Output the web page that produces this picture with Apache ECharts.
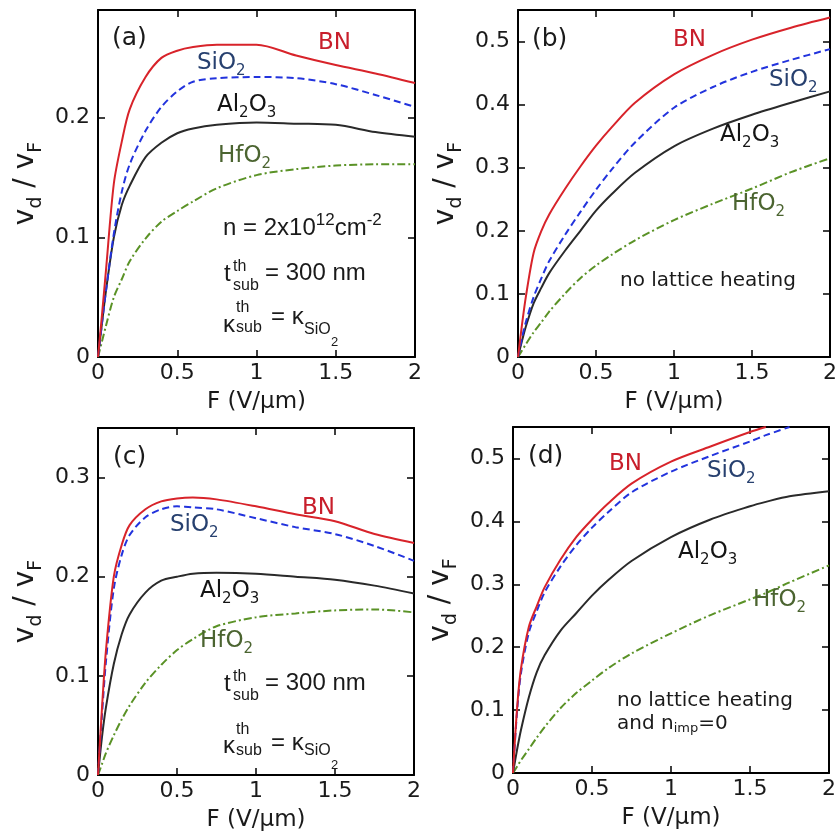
<!DOCTYPE html>
<html><head><meta charset="utf-8">
<script src="https://cdn.jsdelivr.net/npm/echarts@6/dist/echarts.min.js"></script>
<style>html,body{margin:0;padding:0;background:#fff}#c{width:840px;height:839px}</style>
</head><body><div id="c"></div>
<script>
// ---------- data ----------
const fieldABC = [0,0.025,0.05,0.1,0.15,0.2,0.3,0.4,0.5,0.6,0.75,1.0,1.25,1.5,1.75,2.0];
const fieldD   = [0,0.025,0.05,0.1,0.15,0.2,0.3,0.4,0.5,0.6,0.75,1.0,1.25,1.5,1.6,1.75,2.0];

// (a)
const bnA    = [0,0.035,0.072,0.145,0.18,0.207,0.234,0.25,0.256,0.259,0.261,0.261,0.252,0.244,0.237,0.229];
const sio2A  = [0,0.028,0.055,0.103,0.138,0.161,0.189,0.209,0.222,0.23,0.233,0.234,0.233,0.228,0.219,0.209];
const al2o3A = [0,0.028,0.055,0.1,0.127,0.143,0.167,0.179,0.187,0.191,0.194,0.196,0.195,0.194,0.188,0.184];
const hfo2A  = [0,0.013,0.026,0.05,0.065,0.08,0.099,0.113,0.122,0.13,0.141,0.152,0.157,0.16,0.161,0.161];
// (b)
const bnB    = [0,0.05,0.095,0.165,0.2,0.226,0.266,0.302,0.335,0.364,0.403,0.448,0.479,0.503,0.522,0.538];
const sio2B  = [0,0.03,0.055,0.095,0.125,0.152,0.193,0.23,0.265,0.297,0.34,0.395,0.428,0.452,0.471,0.488];
const al2o3B = [0,0.025,0.048,0.085,0.11,0.133,0.168,0.2,0.232,0.258,0.292,0.334,0.362,0.384,0.403,0.421];
const hfo2B  = [0,0.01,0.02,0.039,0.055,0.072,0.1,0.125,0.145,0.162,0.185,0.217,0.243,0.267,0.293,0.315];
// (c)
const bnC    = [0,0.067,0.125,0.2,0.232,0.252,0.268,0.276,0.279,0.28,0.278,0.271,0.263,0.256,0.243,0.234];
const sio2C  = [0,0.06,0.114,0.188,0.222,0.242,0.26,0.268,0.271,0.27,0.268,0.259,0.25,0.243,0.231,0.216];
const al2o3C = [0,0.038,0.068,0.112,0.142,0.162,0.184,0.196,0.2,0.203,0.204,0.203,0.2,0.197,0.191,0.183];
const hfo2C  = [0,0.011,0.022,0.04,0.056,0.07,0.093,0.111,0.126,0.137,0.15,0.159,0.163,0.166,0.167,0.164];
// (d)
const bnD    = [0,0.1,0.165,0.232,0.265,0.295,0.339,0.375,0.403,0.428,0.46,0.495,0.519,0.542,0.55,null,null];
const sio2D  = [0,0.095,0.158,0.223,0.257,0.287,0.328,0.362,0.39,0.414,0.446,0.479,0.504,0.527,0.537,0.55,null];
const al2o3D = [0,0.036,0.068,0.12,0.16,0.187,0.226,0.254,0.282,0.306,0.337,0.375,0.403,0.424,0.431,0.44,0.448];
const hfo2D  = [0,0.01,0.02,0.038,0.056,0.073,0.103,0.127,0.147,0.166,0.19,0.222,0.251,0.276,0.286,0.303,0.33];

const xTickLabels = ['0','0.5','1','1.5','2'];
const yMaxes = [0.29, 0.55, 0.35, 0.55];
const seriesNames = ['BN','SiO2','Al2O3','HfO2'];

// ---------- styling ----------
const FD = '"DejaVu Sans", Verdana, sans-serif';
const FL = '"Liberation Sans", Arial, sans-serif';
const INK = '#1a1a1a';
const lineStyles = {
  BN:    {color:'#d8232a', width:2, type:'solid'},
  SiO2:  {color:'#2233dd', width:2, type:[7,4]},
  Al2O3: {color:'#2a2a2a', width:2, type:'solid'},
  HfO2:  {color:'#5a9226', width:2, type:[8,3,2,3]}
};
const labelColors = {BN:'#c81e2b', SiO2:'#27406f', Al2O3:'#141414', HfO2:'#4b6430'};

const grids = [
  {left:98, top:10, width:317, height:347},
  {left:518, top:10, width:316, height:347},
  {left:98, top:428, width:316, height:347},
  {left:513, top:427, width:316, height:346}
];

const panels = [
  {F: fieldABC, vals:[bnA,sio2A,al2o3A,hfo2A]},
  {F: fieldABC, vals:[bnB,sio2B,al2o3B,hfo2B]},
  {F: fieldABC, vals:[bnC,sio2C,al2o3C,hfo2C]},
  {F: fieldD,   vals:[bnD,sio2D,al2o3D,hfo2D]}
];

const xAxes = [], yAxes = [], series = [];
grids.forEach((g, i) => {
  const axLine = {show:true, onZero:false, lineStyle:{color:'#000', width:2}};
  const tick = {show:true, inside:true, length:7, lineStyle:{color:'#000', width:1.5}};
  xAxes.push({
    gridIndex:i, type:'value', min:0, max:2, interval:0.5, position:'bottom',
    name:'F (V/μm)', nameLocation:'middle', nameGap:34,
    nameTextStyle:{fontSize:23, fontFamily:FD, color:INK},
    axisLine:axLine, axisTick:tick, splitLine:{show:false},
    axisLabel:{fontSize:22, fontFamily:FD, color:INK, margin:5,
      formatter:v => xTickLabels[Math.round(v/0.5)] || ''}
  });
  xAxes.push({
    gridIndex:i, type:'value', min:0, max:2, interval:0.5, position:'top',
    axisLine:axLine, axisTick:tick, splitLine:{show:false}, axisLabel:{show:false}
  });
  yAxes.push({
    gridIndex:i, type:'value', min:0, max:yMaxes[i], interval:0.1, position:'left',
    name:'v{s|d} / v{s|F}', nameLocation:'middle', nameRotate:90, nameGap:58,
    nameTextStyle:{fontSize:28, fontFamily:FD, color:INK,
      rich:{s:{fontSize:19, fontFamily:FD, color:INK, height:8, verticalAlign:'bottom'}}},
    axisLine:axLine, axisTick:tick, splitLine:{show:false},
    axisLabel:{fontSize:22, fontFamily:FD, color:INK, margin:8, showMaxLabel:false,
      formatter:v => Math.abs(v*10 - Math.round(v*10)) < 1e-6 ? String(Math.round(v*10)/10) : ''}
  });
  yAxes.push({
    gridIndex:i, type:'value', min:0, max:yMaxes[i], interval:0.1, position:'right',
    axisLine:axLine, axisTick:tick, splitLine:{show:false}, axisLabel:{show:false}
  });
  const p = panels[i];
  seriesNames.forEach((nm, k) => {
    const data = [];
    p.F.forEach((f, j) => { if (p.vals[k][j] != null) data.push([f, p.vals[k][j]]); });
    series.push({
      type:'line', name:nm, xAxisIndex:2*i, yAxisIndex:2*i, data,
      showSymbol:false, symbol:'none', smooth:0.3,
      lineStyle:lineStyles[nm], z: 10 - k, animation:false, silent:true
    });
  });
});

// ---------- text annotations ----------
function T(x, y, text, size, color, family, rich) {
  const st = {text, font:size+'px '+family, fill:color, align:'left', verticalAlign:'middle',
              textAlign:'left', textVerticalAlign:'middle'};
  if (rich) st.rich = rich;
  return {type:'text', x, y, silent:true, z:100, style:st};
}
function subR(size, color, family, h) { return {font:size+'px '+family, fill:color, height:h, verticalAlign:'bottom'}; }
function supR(size, color, family, h) { return {font:size+'px '+family, fill:color, height:h, verticalAlign:'top'}; }

function curveLabel(x, y, key) {
  const c = labelColors[key];
  const textMap = {BN:'BN', SiO2:'SiO{s|2}', Al2O3:'Al{s|2}O{s|3}', HfO2:'HfO{s|2}'};
  return T(x, y, textMap[key], 23, c, FD, {s:subR(15, c, FD, 7)});
}

const labelPos = [
  {BN:[318,43.5], SiO2:[197,63], Al2O3:[217,105.5], HfO2:[218,156]},
  {BN:[673,40], SiO2:[769,80], Al2O3:[720,135], HfO2:[732,204]},
  {BN:[302,508], SiO2:[170,525.5], Al2O3:[200,591], HfO2:[200,641]},
  {BN:[609,464], SiO2:[707,471], Al2O3:[678,552.5], HfO2:[753,600]}
];
const panelTags = ['(a)','(b)','(c)','(d)'];
const tagPos = [[112,38],[532,39],[113,457.5],[528,456]];

const elements = [];
panelTags.forEach((t, i) => elements.push(T(tagPos[i][0], tagPos[i][1], t, 25, INK, FD)));
labelPos.forEach(lp => seriesNames.forEach(k => elements.push(curveLabel(lp[k][0], lp[k][1], k))));

function thermal(base, kBase, withN) {
  const out = [];
  if (withN) out.push(T(223, withN, 'n = 2x10{p|12}cm{p|-2}', 24, INK, FL, {p:supR(17, INK, FL, 8)}));
  // t^th_sub = 300 nm
  out.push(T(224, base + 1, 't', 24, INK, FL));
  out.push(T(233, base - 7.5, 'th', 16, INK, FL));
  out.push(T(233, base + 12, 'sub', 16, INK, FL));
  out.push(T(265, base, '= 300 nm', 24, INK, FL));
  // kappa^th_sub = kappa_SiO2
  out.push(T(223, kBase.k, 'κ', 24, INK, FL));
  out.push(T(236, kBase.th, 'th', 16, INK, FL));
  out.push(T(236, kBase.sub, 'sub', 16, INK, FL));
  out.push(T(271, kBase.eq, '= κ', 24, INK, FL));
  out.push(T(304, kBase.sio, 'SiO', 16, INK, FL));
  out.push(T(331, kBase.two, '2', 13, INK, FL));
  return out;
}
elements.push(...thermal(273.7, {k:325, th:307.5, sub:327.5, eq:317, sio:329.5, two:342.5}, 228.7));
elements.push(...thermal(683.7, {k:746, th:729.5, sub:751, eq:743.7, sio:750.5, two:765.5}, null));

elements.push(T(620, 280.3, 'no lattice heating', 20, INK, FD));
elements.push(T(617, 700.6, 'no lattice heating', 20, INK, FD));
elements.push(T(617, 724, 'and n{s|imp}=0', 20, INK, FD, {s:subR(13, INK, FD, 11)}));

const chart = echarts.init(document.getElementById('c'), null, {renderer:'canvas'});
chart.setOption({
  animation:false,
  backgroundColor:'#fff',
  grid: grids,
  xAxis: xAxes,
  yAxis: yAxes,
  series,
  graphic: {elements}
});
</script>
</body></html>
